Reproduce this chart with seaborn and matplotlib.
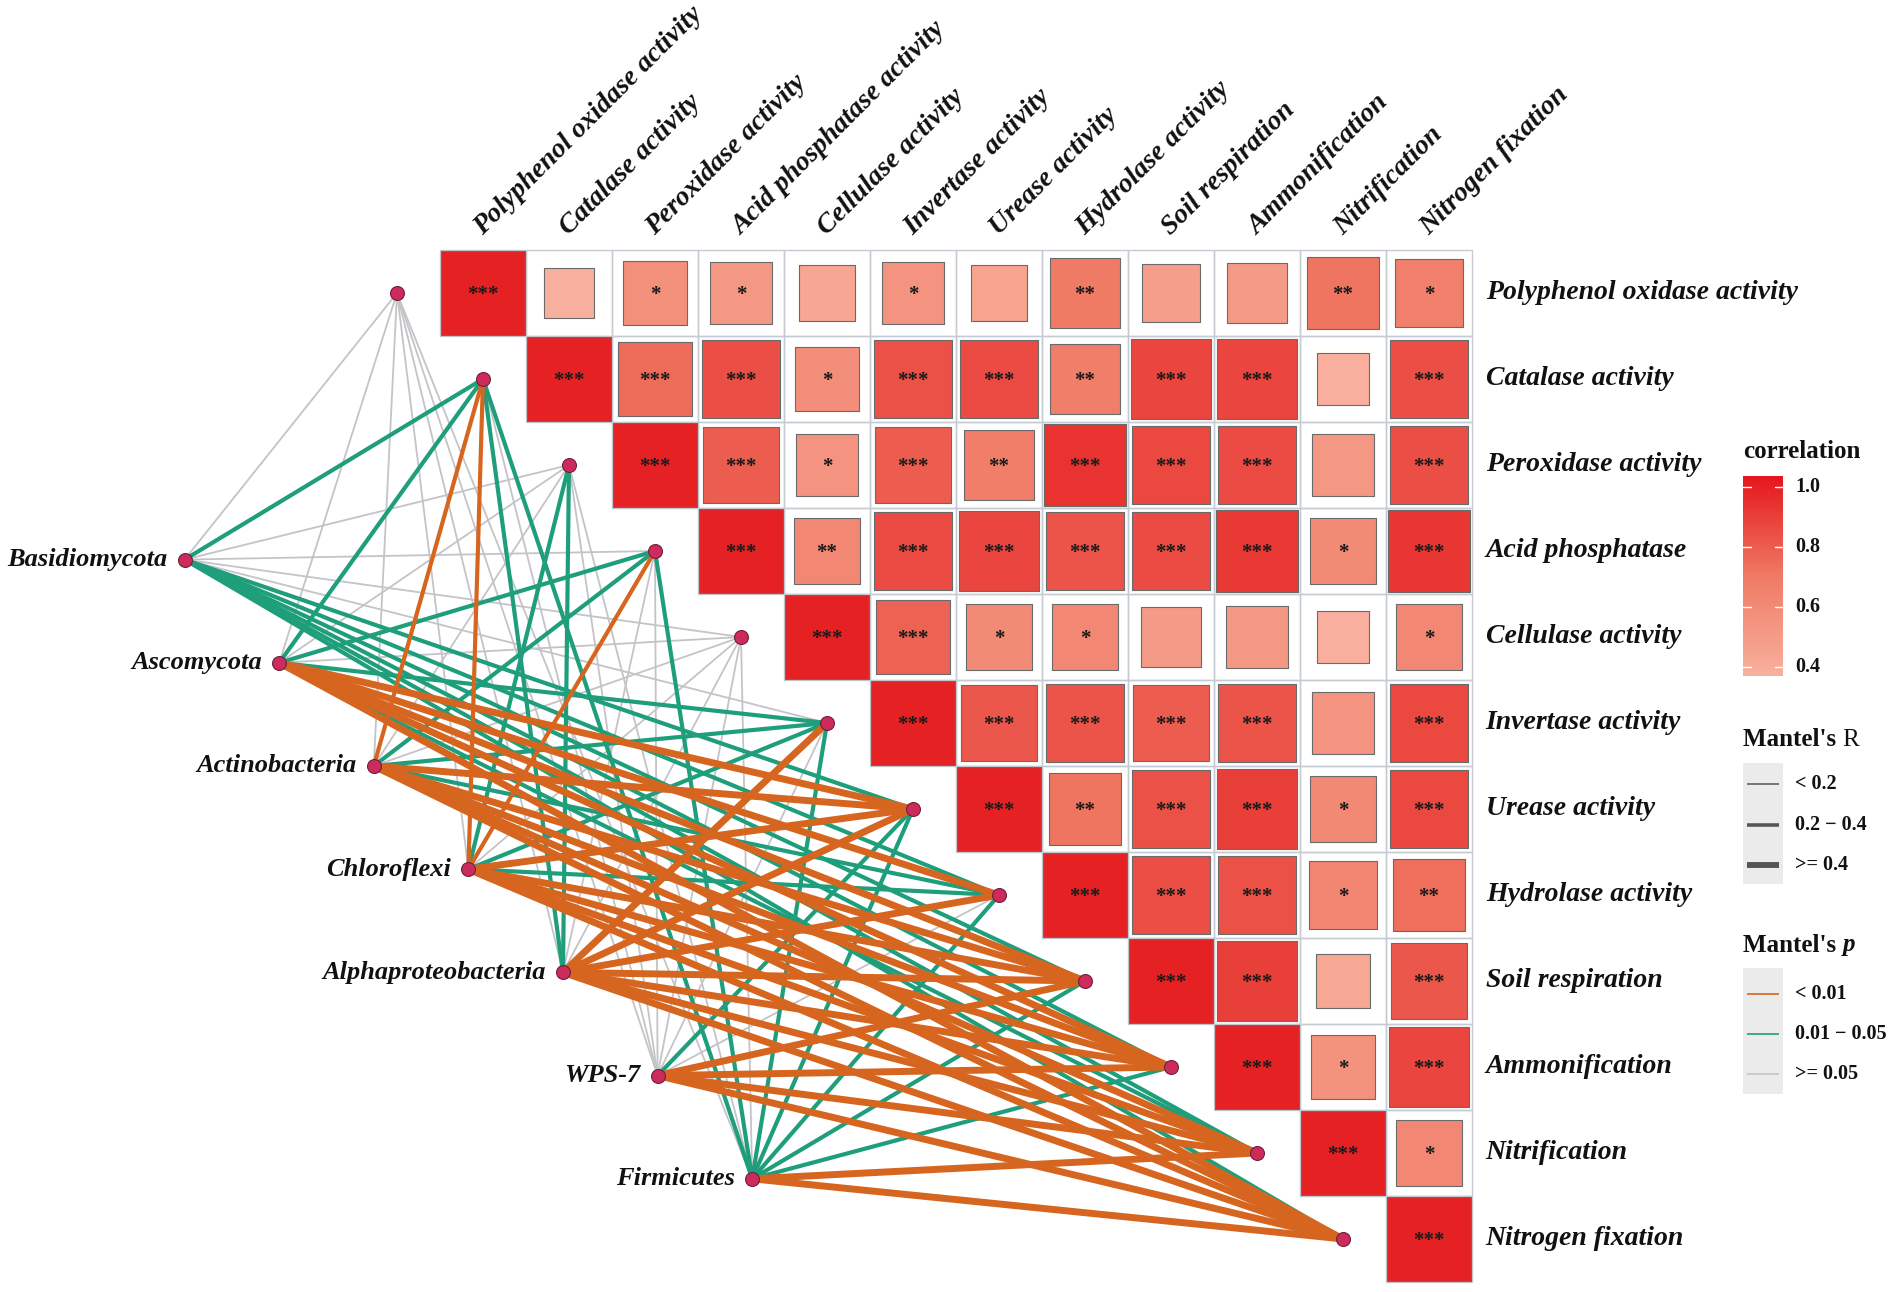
import numpy as np
import pandas as pd
import matplotlib
matplotlib.use("Agg")
import matplotlib.pyplot as plt
import seaborn as sns
from matplotlib.colors import LinearSegmentedColormap, Normalize
from matplotlib.patches import Rectangle
from matplotlib.cm import ScalarMappable

sns.set_theme(style="white")
plt.rcParams["font.family"] = ["Liberation Serif", "DejaVu Serif"]

# ---------------- data ----------------
env_labels = ["Polyphenol oxidase activity", "Catalase activity", "Peroxidase activity",
              "Acid phosphatase", "Cellulase activity", "Invertase activity",
              "Urease activity", "Hydrolase activity", "Soil respiration",
              "Ammonification", "Nitrification", "Nitrogen fixation"]
top_labels = ["Polyphenol oxidase activity", "Catalase activity", "Peroxidase activity",
              "Acid phosphatase activity", "Cellulase activity", "Invertase activity",
              "Urease activity", "Hydrolase activity", "Soil respiration",
              "Ammonification", "Nitrification", "Nitrogen fixation"]

# upper-triangle correlations, row i holds columns i+1 .. 11
corr_upper = [
    [0.36, 0.57, 0.52, 0.43, 0.54, 0.45, 0.70, 0.48, 0.51, 0.72, 0.66],
    [0.75, 0.85, 0.58, 0.84, 0.86, 0.68, 0.88, 0.88, 0.38, 0.85],
    [0.80, 0.54, 0.80, 0.68, 0.94, 0.87, 0.86, 0.52, 0.85],
    [0.62, 0.86, 0.88, 0.83, 0.86, 0.92, 0.60, 0.93],
    [0.78, 0.60, 0.62, 0.51, 0.52, 0.38, 0.62],
    [0.82, 0.83, 0.80, 0.83, 0.55, 0.87],
    [0.72, 0.84, 0.90, 0.61, 0.87],
    [0.85, 0.84, 0.63, 0.74],
    [0.90, 0.42, 0.82],
    [0.56, 0.88],
    [0.62],
    [],
]
stars_upper = [
    ["", "*", "*", "", "*", "", "**", "", "", "**", "*"],
    ["***", "***", "*", "***", "***", "**", "***", "***", "", "***"],
    ["***", "*", "***", "**", "***", "***", "***", "", "***"],
    ["**", "***", "***", "***", "***", "***", "*", "***"],
    ["***", "*", "*", "", "", "", "*"],
    ["***", "***", "***", "***", "", "***"],
    ["**", "***", "***", "*", "***"],
    ["***", "***", "*", "**"],
    ["***", "", "***"],
    ["*", "***"],
    ["*"],
    [],
]
diag_star = "***"

species = ["Basidiomycota", "Ascomycota", "Actinobacteria", "Chloroflexi",
           "Alphaproteobacteria", "WPS-7", "Firmicutes"]

# Mantel r / p : one list per species, in env_labels order
mantel_r = [
    [0.08, 0.31, 0.12, 0.10, 0.11, 0.15, 0.29, 0.33, 0.30, 0.32, 0.28, 0.31],
    [0.06, 0.30, 0.14, 0.27, 0.12, 0.28, 0.45, 0.43, 0.47, 0.46, 0.26, 0.44],
    [0.09, 0.36, 0.13, 0.29, 0.11, 0.27, 0.48, 0.30, 0.52, 0.50, 0.46, 0.49],
    [0.10, 0.35, 0.28, 0.34, 0.13, 0.30, 0.49, 0.31, 0.53, 0.51, 0.47, 0.50],
    [0.07, 0.27, 0.29, 0.14, 0.12, 0.44, 0.46, 0.45, 0.50, 0.48, 0.45, 0.47],
    [0.05, 0.12, 0.10, 0.13, 0.09, 0.16, 0.27, 0.15, 0.42, 0.44, 0.43, 0.45],
    [0.08, 0.26, 0.14, 0.28, 0.12, 0.30, 0.31, 0.29, 0.32, 0.30, 0.46, 0.48],
]
mantel_p = [
    [0.42, 0.021, 0.21, 0.33, 0.27, 0.09, 0.024, 0.015, 0.019, 0.012, 0.031, 0.017],
    [0.51, 0.018, 0.12, 0.028, 0.16, 0.022, 0.003, 0.005, 0.002, 0.002, 0.034, 0.004],
    [0.36, 0.008, 0.14, 0.016, 0.23, 0.026, 0.001, 0.013, 0.001, 0.001, 0.002, 0.001],
    [0.29, 0.006, 0.024, 0.007, 0.18, 0.019, 0.001, 0.011, 0.001, 0.001, 0.002, 0.001],
    [0.47, 0.027, 0.021, 0.11, 0.19, 0.004, 0.002, 0.003, 0.001, 0.001, 0.003, 0.002],
    [0.58, 0.16, 0.24, 0.13, 0.31, 0.07, 0.033, 0.08, 0.006, 0.004, 0.005, 0.003],
    [0.39, 0.035, 0.10, 0.025, 0.17, 0.016, 0.014, 0.02, 0.012, 0.018, 0.002, 0.001],
]

r_levels = ["< 0.2", "0.2 - 0.4", ">= 0.4"]
p_levels = ["< 0.01", "0.01 - 0.05", ">= 0.05"]

# ---------------- layout / style ----------------
W, H, DPI = 1902, 1292, 100
CELL = 86.0           # px per heatmap cell
X0_PX, Y0_PX = 440.0, 250.0
SP_X0, SP_DX = -2.97, 1.10
SP_Y0, SP_DY = 3.60, 1.20
LABEL_FONT = dict(fontweight="bold", style="italic", fontsize=20, color="#111111")
SPECIES_FONT = dict(fontweight="bold", style="italic", fontsize=19, color="#111111")

p_colors = {"< 0.01": "#D6651F", "0.01 - 0.05": "#1F9E7C", ">= 0.05": "#C4C4C8"}
r_widths = {"< 0.2": 1.3, "0.2 - 0.4": 3.0, ">= 0.4": 5.0}
cmap = LinearSegmentedColormap.from_list("corr", ["#F8B09E", "#F07A64", "#E5161C"])
norm = Normalize(0.37, 1.037)

fig = plt.figure(figsize=(W / DPI, H / DPI), dpi=DPI)
ax = fig.add_axes([0, 0, 1, 1])

# ---------------- heatmap squares ----------------
rows = []
for i in range(12):
    rows.append(dict(x=i + 0.5, y=i + 0.5, r=1.0, star=diag_star))
    for k, v in enumerate(corr_upper[i]):
        j = i + 1 + k
        rows.append(dict(x=j + 0.5, y=i + 0.5, r=v, star=stars_upper[i][k]))
sq = pd.DataFrame(rows)

# grid
for i in range(12):
    for j in range(i, 12):
        ax.add_patch(Rectangle((j, i), 1, 1, fill=False, edgecolor="#C5CBD2",
                               lw=1.0, zorder=2.5))

cell_pt = CELL * 72.0 / DPI
K = (cell_pt - 1.0) ** 2
sns.scatterplot(data=sq, x="x", y="y", hue="r", size="r", palette=cmap,
                hue_norm=norm, sizes=(0, K), size_norm=(0, 1), marker="s",
                edgecolor="#6a6a6a", linewidth=0.8, legend=False, ax=ax, zorder=3)

for _, rw in sq.iterrows():
    if rw["star"]:
        ax.text(rw["x"], rw["y"] + 0.02, rw["star"], ha="center", va="center",
                fontsize=15, fontweight="bold", color="#1a1a1a", zorder=6)

# ---------------- network ----------------
env_xy = [(i - 0.5, i + 0.5) for i in range(12)]
sp_xy = [(SP_X0 + k * SP_DX, SP_Y0 + k * SP_DY) for k in range(len(species))]


def r_class(v):
    return r_levels[0] if v < 0.2 else (r_levels[1] if v < 0.4 else r_levels[2])


def p_class(v):
    return p_levels[0] if v < 0.01 else (p_levels[1] if v < 0.05 else p_levels[2])


erows = []
eid = 0
for s in range(len(species)):
    for e in range(12):
        rc, pc = r_class(mantel_r[s][e]), p_class(mantel_p[s][e])
        erows.append(dict(edge=eid, x=sp_xy[s][0], y=sp_xy[s][1], rc=rc, pc=pc))
        erows.append(dict(edge=eid, x=env_xy[e][0], y=env_xy[e][1], rc=rc, pc=pc))
        eid += 1
edges = pd.DataFrame(erows)

sns.lineplot(data=edges, x="x", y="y", units="edge", estimator=None, sort=False,
             hue="pc", hue_order=[">= 0.05", "0.01 - 0.05", "< 0.01"], palette=p_colors,
             size="rc", size_order=r_levels, sizes=r_widths, legend=False, ax=ax,
             zorder=2)

nodes = pd.DataFrame(
    [dict(x=x, y=y) for x, y in env_xy] + [dict(x=x, y=y) for x, y in sp_xy])
sns.scatterplot(data=nodes, x="x", y="y", color="#CC2C5C", edgecolor="#6E1F3C",
                linewidth=0.8, s=100, legend=False, ax=ax, zorder=7)

for k, name in enumerate(species):
    ax.text(sp_xy[k][0] - 0.2, sp_xy[k][1], name, ha="right", va="center", **SPECIES_FONT)

for i, name in enumerate(env_labels):
    ax.text(12.16, i + 0.5, name, ha="left", va="center", **LABEL_FONT)

for j, name in enumerate(top_labels):
    ax.text(j + 0.50, -0.17, name, ha="left", va="baseline", rotation=45,
            rotation_mode="anchor", **LABEL_FONT)

ax.set_xlim(-X0_PX / CELL, (W - X0_PX) / CELL)
ax.set_ylim((H - Y0_PX) / CELL, -Y0_PX / CELL)
ax.axis("off")

# ---------------- legends ----------------
lax = fig.add_axes([0, 0, 1, 1], zorder=10)
lax.set_xlim(0, W)
lax.set_ylim(H, 0)
lax.axis("off")
lax.patch.set_alpha(0)

TITLE = dict(fontsize=18, fontweight="bold", color="#111111", va="center", ha="left")
ITEM = dict(fontsize=14.5, fontweight="bold", color="#111111", va="center", ha="left")

# correlation colorbar
lax.text(1743, 451, "correlation", **TITLE)
cb_top, cb_bot = 476, 676
cax = fig.add_axes([1743 / W, 1 - cb_bot / H, 40 / W, (cb_bot - cb_top) / H], zorder=11)
cb = fig.colorbar(ScalarMappable(norm=norm, cmap=cmap), cax=cax)
cb.outline.set_visible(False)
cb.set_ticks([])
for v in [0.4, 0.6, 0.8, 1.0]:
    cax.plot([0, 0.2], [v, v], color="white", lw=1.0)
    cax.plot([0.8, 1.0], [v, v], color="white", lw=1.0)
    ypx = cb_bot - (v - norm.vmin) / (norm.vmax - norm.vmin) * (cb_bot - cb_top)
    lax.text(1795, ypx, f"{v:.1f}", **ITEM)

renderer = fig.canvas.get_renderer()

# Mantel's R
t = lax.text(1743, 740, "Mantel's ", **TITLE)
bb = t.get_window_extent(renderer=renderer)
lax.text(1743 + bb.width, 740, "R", fontsize=18, color="#111111", va="center", ha="left")
lax.add_patch(Rectangle((1743, 763), 40, 121, facecolor="#EBEBEB", edgecolor="none"))
for yy, lev in zip([784, 825, 865], r_levels):
    lax.plot([1747, 1779], [yy, yy], color="#555555", lw=r_widths[lev] * 0.85,
             solid_capstyle="butt")
    lax.text(1795, yy, lev.replace("-", "\u2212"), **ITEM)

# Mantel's p
t = lax.text(1743, 945, "Mantel's ", **TITLE)
bb = t.get_window_extent(renderer=renderer)
lax.text(1743 + bb.width, 945, "p", fontsize=18, fontweight="bold", style="italic",
         color="#111111", va="center", ha="left")
lax.add_patch(Rectangle((1743, 968), 40, 126, facecolor="#EBEBEB", edgecolor="none"))
for yy, lev in zip([994, 1034, 1074], p_levels):
    lax.plot([1747, 1779], [yy, yy], color=p_colors[lev], lw=1.2,
             solid_capstyle="butt")
    lax.text(1795, yy, lev.replace("-", "\u2212"), **ITEM)

fig.savefig("out.png", dpi=DPI, facecolor="white")
